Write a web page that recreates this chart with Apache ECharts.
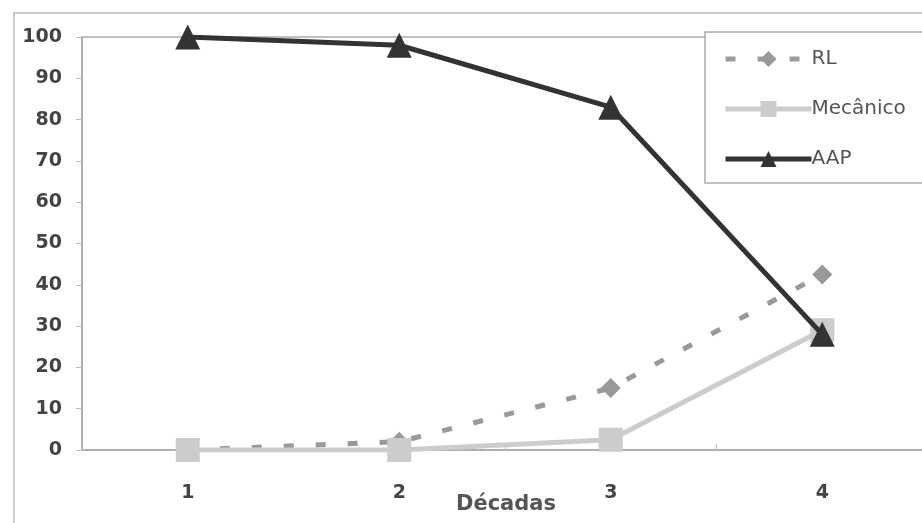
<!DOCTYPE html>
<html><head><meta charset="utf-8">
<script src="https://cdn.jsdelivr.net/npm/echarts@6/dist/echarts.min.js"></script>
<style>html,body{margin:0;padding:0;background:#fff}#c{width:922px;height:523px}</style>
</head><body><div id="c"></div>
<script>
const categories = ['1', '2', '3', '4'];
const rl = [0, 2, 15, 42.5];
const mecanico = [0, 0, 2.5, 29];
const aap = [100, 98, 83, 28];
const yTicks = [0, 10, 20, 30, 40, 50, 60, 70, 80, 90, 100];

const chart = echarts.init(document.getElementById('c'));
const font = 'DejaVu Sans, Verdana, sans-serif';
chart.setOption({
  animation: false,
  backgroundColor: '#fff',
  graphic: [
    {type: 'rect', shape: {x: 14, y: 13, width: 1000, height: 600}, style: {fill: 'none', stroke: '#bbb', lineWidth: 1.5}, z: -1},
    {type: 'rect', shape: {x: 705, y: 32, width: 300, height: 151}, style: {fill: '#fff', stroke: '#aaa', lineWidth: 1.5}, z: 5}
  ],
  grid: {left: 82, top: 37, right: -6, bottom: 73, show: true, borderColor: '#aaa', borderWidth: 1.5, outerBoundsMode: 'none', containLabel: false},
  legend: {
    orient: 'vertical', left: 718, top: 44, itemWidth: 86, itemHeight: 20, itemGap: 30, z: 10,
    lineStyle: {width: 5},
    textStyle: {fontFamily: font, fontSize: 20, color: '#555', padding: [0, 0, 0, -5], lineHeight: 20},
    data: ['RL', 'Mecânico', 'AAP']
  },
  xAxis: {
    type: 'category', data: categories, boundaryGap: true,
    name: 'Décadas', nameLocation: 'middle', nameGap: 44, nameMoveOverlap: false,
    nameTextStyle: {fontFamily: font, fontSize: 21, fontWeight: 'bold', color: '#555', padding: [0, 0, 0, 2]},
    axisLine: {lineStyle: {color: '#aaa', width: 1.5}},
    axisTick: {show: true, inside: true, length: 6, lineStyle: {color: '#bbb'}},
    axisLabel: {fontFamily: font, fontSize: 19, fontWeight: 'bold', color: '#444', margin: 34}
  },
  yAxis: {
    type: 'value', min: 0, max: 100, interval: 10,
    axisLine: {show: true, lineStyle: {color: '#aaa', width: 1.5}},
    axisTick: {show: true, length: 6, lineStyle: {color: '#bbb'}},
    splitLine: {show: false},
    axisLabel: {fontFamily: font, fontSize: 19, fontWeight: 'bold', color: '#444', margin: 20,
      formatter: v => yTicks.includes(v) ? String(v) : ''}
  },
  series: [
    {name: 'RL', type: 'line', data: rl, symbol: 'diamond', symbolSize: 20,
      lineStyle: {color: '#999', width: 5, type: [10, 22]}, itemStyle: {color: '#999'}, z: 2},
    {name: 'Mecânico', type: 'line', data: mecanico, symbol: 'rect', symbolSize: 24,
      lineStyle: {color: '#ccc', width: 5}, itemStyle: {color: '#ccc'}, z: 3},
    {name: 'AAP', type: 'line', data: aap, symbol: 'triangle', symbolSize: 25,
      lineStyle: {color: '#333', width: 5}, itemStyle: {color: '#333'}, z: 4}
  ]
});
</script></body></html>
